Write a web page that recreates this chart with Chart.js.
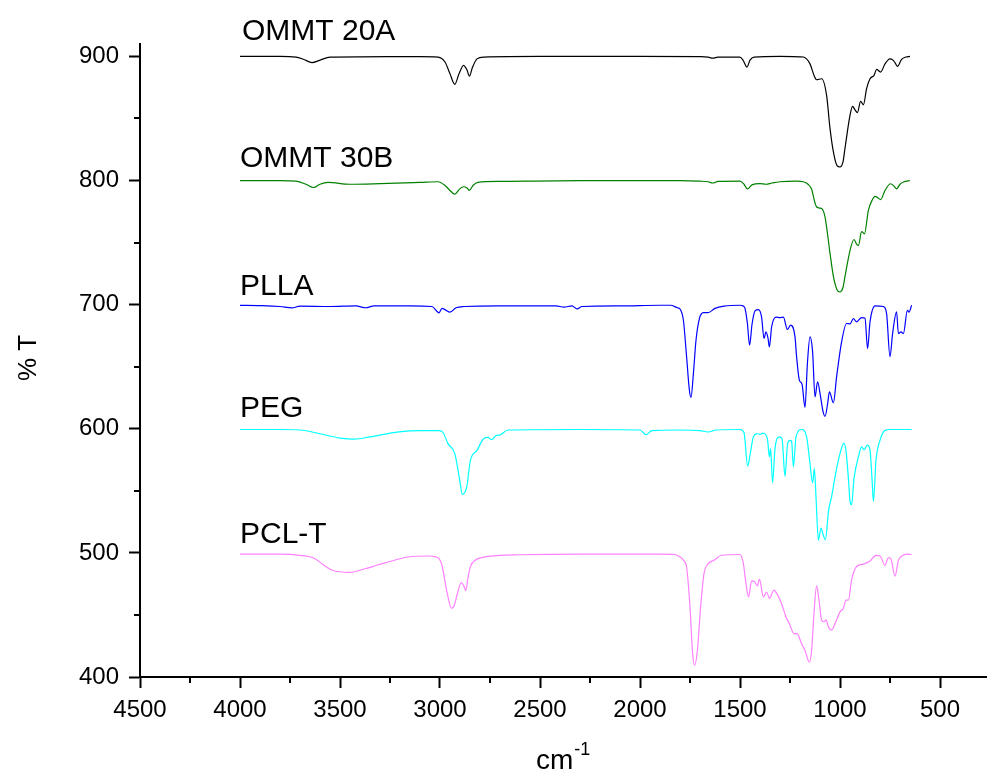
<!DOCTYPE html>
<html>
<head>
<meta charset="utf-8">
<script src="https://cdn.jsdelivr.net/npm/chart.js@4.4.0/dist/chart.umd.min.js"></script>
<style>
  html, body { margin: 0; padding: 0; background: #fff; }
  #wrap { width: 987px; height: 771px; }
</style>
</head>
<body>
<div id="wrap"><canvas id="ftirChart" width="987" height="771"></canvas></div>
<script>
// Spectra: [wavenumber cm-1, %T]
const ommt20a = [[4000,900],[3800,900],[3720,899.5],[3680,897.5],[3640,895],[3600,897],[3550,899.5],[3400,899.7],[3100,899.8],[3010,899.5],[2975,895.5],[2950,886],[2926,877.5],[2905,886],[2882,892.8],[2865,889],[2853,884],[2838,891],[2815,898],[2780,899.5],[2500,900],[2000,900],[1700,899.8],[1660,899.5],[1636,898.6],[1610,899.5],[1500,899.5],[1485,897],[1465,891.4],[1450,897],[1430,899.5],[1300,900],[1200,899.7],[1183,899.5],[1150,894],[1130,884.7],[1117,881.2],[1092,882],[1067,868.6],[1050,842],[1033,823],[1015,812],[1000,810.9],[985,815],[975,826],[950,852.5],[937,859.7],[925,857],[913,854.7],[897,863.8],[883,861],[867,874],[850,882],[830,884.7],[817,889.5],[797,887.4],[775,894],[750,898],[735,897],[725,895],[713,892],[692,897.6],[670,899.5],[650,900]];

const ommt30b = [[4000,800],[3800,800],[3720,799.5],[3670,797],[3632,794.4],[3600,797],[3560,798.5],[3450,797],[3300,797.5],[3100,798.5],[3010,799],[2975,796],[2950,792],[2926,789],[2900,793.5],[2882,795],[2865,794],[2853,792],[2835,796],[2810,798.5],[2700,799.3],[2300,800],[1800,800],[1700,799.5],[1660,799],[1636,798],[1610,799.3],[1500,799.5],[1480,797],[1463,793.3],[1440,796.5],[1400,797.5],[1370,797],[1340,798],[1300,799],[1220,799.5],[1183,799],[1160,797],[1142,793],[1125,782],[1117,778.7],[1100,777.8],[1092,777.5],[1075,770.8],[1050,741.5],[1033,722.7],[1015,712],[1000,710.2],[985,714],[975,722.7],[950,743.6],[930,752.5],[918,749],[908,747.7],[892,758.9],[878,757],[858,776],[840,784],[825,787.3],[810,786],[797,784.6],[775,792],[747,797.4],[730,795.5],[717,793.3],[700,797],[680,799],[650,800]];

const plla = [[4000,699.4],[3900,699.2],[3800,698.5],[3740,697.4],[3700,698.8],[3550,698.5],[3420,699],[3372,697.5],[3330,699],[3150,699],[3040,698.5],[3005,693.4],[2990,697],[2975,696],[2950,694],[2920,697.5],[2880,698.5],[2700,699],[2420,699],[2380,698],[2340,699],[2315,696.6],[2290,698.5],[2100,699],[1900,699.5],[1847,699.5],[1813,697.5],[1800,696.5],[1783,687.4],[1767,658],[1753,631],[1745,625.2],[1733,644.5],[1720,671.3],[1703,688.8],[1683,693.6],[1660,693.5],[1625,697],[1580,698.8],[1500,699.5],[1485,699],[1475,697],[1463,684.8],[1452,667.3],[1440,684],[1425,695],[1408,696],[1392,690],[1380,672.7],[1370,678],[1360,673],[1353,665.9],[1342,682],[1320,690],[1300,689.5],[1283,690],[1263,680],[1247,683.5],[1225,674],[1217,658],[1203,639],[1190,636],[1175,617.2],[1163,652.6],[1150,674],[1137,662],[1125,625.7],[1112,637.8],[1097,625.7],[1085,614],[1075,610],[1062,620],[1053,629.7],[1033,620.9],[1017,641.8],[992,670],[967,684.8],[950,684.5],[933,688.8],[917,686.1],[892,689.6],[875,689],[862,664.6],[850,686],[825,699],[783,698.5],[767,692.8],[750,658],[737,676.7],[717,694.2],[708,676.7],[695,678],[683,676.7],[663,695.5],[655,694],[642,699.5]];

const peg = [[4000,599.4],[3800,599.4],[3700,599],[3600,596],[3500,592.5],[3427,591.6],[3350,593.5],[3205,597.5],[3100,598.5],[3005,598.5],[2985,597],[2960,588],[2926,580],[2904,561.2],[2888,547],[2875,549],[2866,553.2],[2848,574.6],[2815,582.6],[2782,592],[2760,593],[2742,591.2],[2720,594.5],[2700,595],[2660,599],[2300,599.4],[2000,599],[1970,595.2],[1940,598.5],[1800,599],[1700,598.5],[1658,597.4],[1620,599],[1500,599.4],[1480,597],[1462,569.9],[1450,578.7],[1433,593.5],[1415,596],[1400,595.5],[1385,596.5],[1363,592],[1353,577.3],[1347,584],[1337,556.4],[1325,584],[1303,593.5],[1290,592],[1275,561.8],[1262,588],[1250,590.7],[1242,590],[1233,569.3],[1220,593.5],[1192,599.4],[1167,593.5],[1150,572],[1137,556.4],[1128,568],[1120,545],[1108,510.3],[1095,520],[1085,515],[1073,510.5],[1057,534.5],[1042,545.2],[1025,561.2],[1000,580],[980,588.5],[970,582],[958,560],[950,541.5],[942,538.8],[930,560],[908,577.3],[892,585.4],[880,583],[863,586.8],[850,583],[840,560],[833,541.5],[820,574.6],[800,590.7],[775,598.7],[750,599.4],[642,599.4]];

const pclt = [[4000,499],[3800,499],[3700,498],[3627,495.5],[3580,490],[3538,486],[3449,484.3],[3380,487],[3316,490],[3220,494.5],[3160,496.7],[3060,497.5],[3027,497],[2993,491.7],[2964,467.5],[2942,455.4],[2928,458],[2915,466.1],[2893,476],[2880,473],[2871,469.6],[2860,480],[2848,488.9],[2820,494.5],[2793,496.2],[2700,498],[2603,498.5],[2300,499],[1900,499],[1825,498.7],[1800,496.7],[1780,493.5],[1767,488.6],[1750,456.4],[1737,418.9],[1727,409.5],[1713,421.6],[1697,456.4],[1680,483.3],[1658,491.3],[1630,494],[1592,498.1],[1500,498.7],[1490,496],[1483,491.3],[1470,475.2],[1457,464.5],[1442,477.5],[1428,477],[1413,473.4],[1403,478.8],[1383,464.5],[1367,468.5],[1353,463.3],[1330,470],[1315,467],[1292,459],[1270,448.3],[1253,443],[1230,434.9],[1215,435],[1192,426.8],[1175,421.4],[1153,412],[1142,421.4],[1130,451.3],[1117,473.4],[1105,462],[1092,445.8],[1080,444.5],[1070,446],[1058,440.4],[1042,437.8],[1025,443],[1000,452.5],[983,455.3],[970,462],[958,462],[942,478.2],[917,489],[883,491],[850,493.4],[820,498],[800,497.5],[775,490],[758,496.2],[745,495],[725,481.3],[708,494],[690,497.5],[667,499],[642,498.7]];

const seriesNames = ["OMMT 20A", "OMMT 30B", "PLLA", "PEG", "PCL-T"];
const seriesColors = ["#000000", "#008000", "#0000ff", "#00ffff", "#ff80ff"];
const labelPos = [[3990, 913], [4000, 811], [4000, 707.6], [4000, 609.1], [4000, 508.1]];

const xTicks = [4500, 4000, 3500, 3000, 2500, 2000, 1500, 1000, 500];
const xMinor = [4250, 3750, 3250, 2750, 2250, 1750, 1250, 750];
const yTicks = [400, 500, 600, 700, 800, 900];
const yMinor = [450, 550, 650, 750, 850];

const fontFamily = "'Liberation Sans', Arial, sans-serif";
const ctx = document.getElementById("ftirChart");

const toPoints = (arr) => arr.map((p) => ({ x: p[0], y: p[1] }));
const spectra = [ommt20a, ommt30b, plla, peg, pclt];

// minor ticks, curve labels and axis titles
const extras = {
  id: "extras",
  afterDraw(chart) {
    const c = chart.ctx;
    const { x, y } = chart.scales;
    c.save();
    c.strokeStyle = "#000";
    c.lineWidth = 2;
    c.beginPath();
    xMinor.forEach((v) => {
      const px = Math.round(x.getPixelForValue(v));
      c.moveTo(px, x.top);
      c.lineTo(px, x.top + 6);
    });
    yMinor.forEach((v) => {
      const py = Math.round(y.getPixelForValue(v));
      c.moveTo(y.right, py);
      c.lineTo(y.right - 6, py);
    });
    c.stroke();

    c.fillStyle = "#000";
    c.font = "30px " + fontFamily;
    c.textAlign = "left";
    c.textBaseline = "alphabetic";
    seriesNames.forEach((name, i) => {
      c.fillText(name, x.getPixelForValue(labelPos[i][0]), y.getPixelForValue(labelPos[i][1]));
    });

    // y title
    c.save();
    c.translate(36, 358);
    c.rotate(-Math.PI / 2);
    c.textAlign = "center";
    c.font = "26px " + fontFamily;
    c.fillText("% T", 0, 0);
    c.restore();

    // x title with superscript
    c.textAlign = "left";
    c.font = "28px " + fontFamily;
    const cmW = c.measureText("cm").width;
    const startX = 536;
    c.fillText("cm", startX, 769);
    c.font = "18px " + fontFamily;
    c.fillText("-1", startX + cmW + 1, 755);
    c.restore();
  }
};

const chart = new Chart(ctx, {
  type: "line",
  data: {
    datasets: spectra.map((s, i) => ({
      label: seriesNames[i],
      data: toPoints(s),
      borderColor: seriesColors[i],
      borderWidth: 1.2,
      pointRadius: 0,
      cubicInterpolationMode: "monotone",
      fill: false,
    })),
  },
  options: {
    responsive: false,
    animation: false,
    devicePixelRatio: 1,
    layout: { padding: { top: 44, right: 0, bottom: 0, left: 0 } },
    plugins: { legend: { display: false }, tooltip: { enabled: false } },
    scales: {
      x: {
        type: "linear",
        reverse: true,
        min: 265,
        max: 4500,
        afterBuildTicks: (s) => { s.ticks = xTicks.map((v) => ({ value: v })); },
        afterFit: (s) => { s.height = 94; },
        grid: { display: true, drawOnChartArea: false, drawTicks: true, tickLength: 11, tickWidth: 2, tickColor: "#000" },
        border: { display: true, color: "#000", width: 2 },
        ticks: { color: "#000", font: { family: fontFamily, size: 24 }, padding: 8, maxRotation: 0, autoSkip: false, callback: (v) => String(v) },
      },
      y: {
        type: "linear",
        min: 400,
        max: 910,
        afterBuildTicks: (s) => { s.ticks = yTicks.map((v) => ({ value: v })); },
        afterFit: (s) => { s.width = 140; },
        grid: { display: true, drawOnChartArea: false, drawTicks: true, tickLength: 11, tickWidth: 2, tickColor: "#000" },
        border: { display: true, color: "#000", width: 2 },
        ticks: { color: "#000", font: { family: fontFamily, size: 24 }, padding: 10, callback: (v) => String(v) },
      },
    },
  },
  plugins: [extras],
});
</script>
</body>
</html>
